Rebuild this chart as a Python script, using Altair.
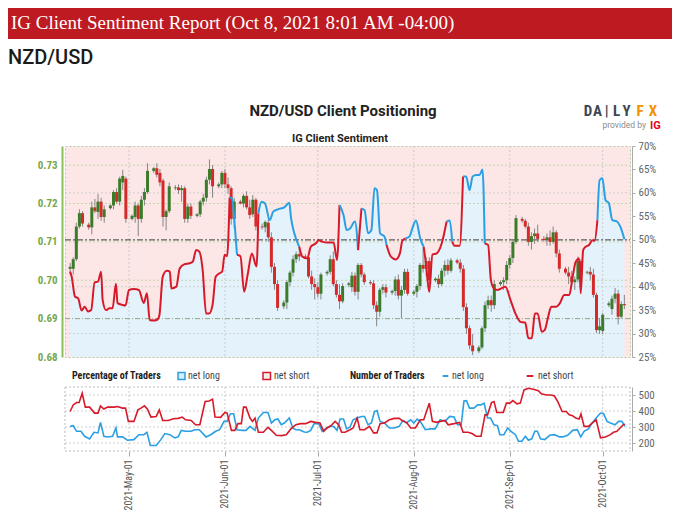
import altair as alt
import pandas as pd

# ----------------------------------------------------------------- data
# Daily NZD/USD candles (Sun-Fri bars) 2021-04-12 .. 2021-10-08, in pips (x 1e-4)
candle_open = [
    7030, 7030, 7055, 7140, 7175,
    7145, 7138, 7190, 7178, 7205, 7165,
    7188, 7195, 7230, 7205, 7255, 7265,
    7160, 7165, 7195, 7160, 7210, 7230,
    7285, 7292, 7280, 7260, 7165, 7180,
    7240, 7242, 7235, 7240, 7160, 7192,
    7168, 7172, 7205, 7215, 7262, 7290,
    7245, 7250, 7280, 7250, 7240, 7160,
    7205, 7200, 7220, 7190, 7172, 7210,
    7140, 7138, 7150, 7112, 7035, 6990,
    6932, 6942, 6995, 7020, 7055, 7068,
    7062, 7060, 7010, 6990, 6982, 6965,
    7018, 7022, 7055, 6990, 6962, 6945,
    6988, 6982, 7012, 6970, 7040, 7015,
    6995, 6992, 6935, 6918, 6975, 6982,
    6968, 6972, 7002, 6960, 6975, 7022,
    6965, 6970, 6985, 7040, 7030, 7050,
    7000, 7004, 6990, 7025, 7040, 7025,
    7052, 7046, 7030, 6930, 6875, 6830,
    6815, 6825, 6875, 6935, 6948, 6935,
    6990, 6995, 7000, 7040, 7058, 7100,
    7160, 7155, 7140, 7100, 7115, 7122,
    7108, 7105, 7112, 7100, 7125, 7070,
    7030, 7020, 7010, 6995, 7002, 7050,
    7020, 7022, 7015, 6962, 6870, 6868,
    6935, 6925, 6952, 6965, 6905, 6938,
]
candle_high = [
    7045, 7060, 7150, 7185, 7180,
    7150, 7205, 7212, 7225, 7215, 7195,
    7198, 7235, 7240, 7270, 7288, 7270,
    7172, 7205, 7200, 7220, 7240, 7305,
    7295, 7305, 7290, 7265, 7185, 7255,
    7248, 7250, 7248, 7245, 7200, 7200,
    7175, 7210, 7225, 7270, 7315, 7300,
    7255, 7285, 7290, 7268, 7245, 7215,
    7210, 7225, 7232, 7210, 7222, 7215,
    7148, 7156, 7165, 7125, 7045, 7000,
    6948, 7000, 7025, 7065, 7075, 7085,
    7068, 7070, 7025, 7005, 6995, 7020,
    7026, 7065, 7075, 7000, 6990, 6992,
    6996, 7022, 7020, 7045, 7045, 7020,
    7000, 7000, 6945, 6980, 6990, 6990,
    6976, 7010, 7015, 6985, 7030, 7030,
    6975, 6990, 7045, 7085, 7060, 7060,
    7008, 7015, 7032, 7052, 7055, 7058,
    7056, 7055, 7040, 6940, 6882, 6860,
    6830, 6880, 6945, 6960, 6960, 7000,
    7000, 7008, 7050, 7065, 7105, 7170,
    7165, 7160, 7150, 7125, 7135, 7145,
    7115, 7122, 7130, 7140, 7130, 7080,
    7035, 7035, 7025, 7010, 7062, 7055,
    7025, 7035, 7030, 6968, 6900, 6915,
    6945, 6960, 6980, 6975, 6945, 6962,
]
candle_low = [
    7015, 7015, 7050, 7135, 7140,
    7132, 7120, 7175, 7160, 7155, 7150,
    7184, 7185, 7200, 7195, 7235, 7150,
    7156, 7150, 7115, 7150, 7195, 7225,
    7280, 7268, 7245, 7140, 7130, 7175,
    7235, 7225, 7205, 7150, 7150, 7160,
    7164, 7165, 7195, 7205, 7250, 7215,
    7240, 7240, 7240, 7225, 7145, 7135,
    7198, 7190, 7185, 7160, 7165, 7130,
    7132, 7125, 7100, 7020, 6975, 6920,
    6925, 6925, 6985, 7010, 7045, 7050,
    7056, 7005, 6975, 6950, 6955, 6950,
    7012, 7015, 6985, 6955, 6925, 6940,
    6982, 6970, 6960, 6950, 7008, 6988,
    6988, 6925, 6880, 6905, 6965, 6955,
    6962, 6960, 6950, 6900, 6965, 6960,
    6960, 6955, 6975, 7020, 7010, 6990,
    6995, 6980, 6985, 7010, 7015, 7020,
    7042, 7020, 6920, 6860, 6820, 6805,
    6810, 6820, 6865, 6925, 6918, 6925,
    6985, 6975, 6990, 7030, 7045, 7095,
    7150, 7135, 7090, 7080, 7095, 7100,
    7100, 7090, 7090, 7095, 7060, 7020,
    7015, 6990, 6985, 6975, 6995, 7010,
    7015, 7000, 6955, 6862, 6860, 6860,
    6930, 6910, 6940, 6885, 6900, 6925,
]
candle_close = [
    7035, 7055, 7140, 7175, 7148,
    7138, 7190, 7180, 7205, 7165, 7185,
    7195, 7230, 7205, 7265, 7272, 7160,
    7168, 7195, 7160, 7210, 7230, 7285,
    7292, 7275, 7255, 7165, 7180, 7245,
    7242, 7235, 7240, 7160, 7192, 7168,
    7172, 7205, 7215, 7262, 7290, 7245,
    7250, 7280, 7250, 7240, 7160, 7205,
    7200, 7220, 7190, 7170, 7210, 7140,
    7138, 7152, 7112, 7035, 6990, 6928,
    6942, 6995, 7020, 7055, 7068, 7062,
    7060, 7010, 6990, 6982, 6965, 7015,
    7022, 7055, 6990, 6962, 6945, 6985,
    6992, 7012, 6970, 7040, 7015, 6995,
    6992, 6935, 6918, 6975, 6982, 6968,
    6972, 7002, 6960, 6975, 7022, 6965,
    6970, 6985, 7040, 7030, 7050, 7000,
    7004, 6990, 7025, 7040, 7025, 7052,
    7046, 7030, 6930, 6875, 6830, 6815,
    6825, 6875, 6935, 6948, 6935, 6990,
    6995, 7000, 7040, 7058, 7100, 7162,
    7155, 7140, 7100, 7115, 7122, 7108,
    7105, 7112, 7100, 7125, 7070, 7030,
    7020, 7010, 6995, 7002, 7050, 7020,
    7022, 7015, 6962, 6870, 6880, 6910,
    6940, 6952, 6965, 6905, 6938, 6935,
]

# % of IG clients net long, read at day offsets from 2021-05-01
pct_day = [
    -19.0, -18.5, -17.45, -16.4, -15.3, -14.3, -13.2, -12.2, -11.1, -10.0,
    -9.0, -8.5, -7.4, -6.3, -5.3, -4.2, -3.7, -2.1, -1.1, 0.0,
    1.6, 3.2, 4.8, 5.8, 6.7, 7.9, 9.0, 9.8, 10.9, 12.2,
    13.2, 13.7, 15.3, 16.4, 18.0, 19.6, 20.6, 21.7, 22.7, 23.8,
    24.9, 25.9, 27.0, 28.0, 29.1, 30.1, 30.9, 31.7, 32.5, 33.3,
    34.2, 34.9, 36.0, 37.2, 38.4, 39.7, 41.2, 41.8, 42.8, 43.9,
    45.5, 46.6, 48.1, 50.2, 51.8, 52.3, 53.4, 55.0, 56.0, 57.6,
    58.7, 60.3, 61.3, 62.4, 64.0, 66.1, 67.2, 68.0, 69.3, 70.3,
    71.4, 73.0, 74.0, 75.1, 76.1, 77.2, 78.3, 79.3, 80.1, 81.1,
    82.5, 83.2, 84.6, 86.2, 87.5, 88.3, 89.3, 90.6, 91.5, 92.7,
    94.1, 95.2, 95.9, 97.0, 98.0, 99.4, 101.0, 102.6, 103.6, 104.4,
    105.2, 106.8, 107.9, 108.9, 110.0, 111.0, 112.1, 113.2, 114.2, 114.9,
    116.0, 116.9, 117.9, 119.0, 121.6, 123.2, 124.8, 126.4, 128.0, 129.0,
    130.1, 131.1, 132.0, 133.3, 134.3, 135.4, 136.4, 138.0, 139.1, 140.6,
    142.2, 143.3, 144.3, 145.4, 145.9, 146.7, 147.5, 148.6, 149.7, 150.4,
    151.3, 152.0, 152.9, 153.9, 155.0, 156.1, 157.6, 158.7, 160.0,
]
pct_long = [
    43.2, 42.1, 37.9, 37.5, 34.9, 35.7, 34.7, 35.0, 40.9, 41.1,
    43.2, 37.2, 35.0, 35.4, 35.4, 40.6, 36.5, 36.1, 36.0, 39.3,
    39.5, 39.3, 36.5, 38.6, 32.9, 32.8, 32.9, 33.8, 42.1, 43.4,
    43.2, 39.6, 40.0, 43.9, 44.8, 45.0, 45.3, 47.8, 47.5, 43.6,
    34.3, 34.3, 36.1, 42.1, 42.8, 43.2, 46.8, 46.5, 59.0, 58.8,
    52.8, 46.8, 46.5, 38.9, 42.8, 47.1, 44.3, 55.6, 58.1, 57.8,
    54.2, 56.0, 56.5, 56.9, 57.9, 54.9, 51.4, 48.5, 46.4, 46.0,
    48.5, 49.2, 49.9, 49.6, 49.4, 49.4, 45.7, 57.4, 55.3, 52.1,
    52.4, 53.9, 47.8, 56.7, 56.3, 51.4, 52.1, 61.0, 60.6, 51.4,
    50.7, 48.9, 46.4, 45.8, 47.1, 49.8, 50.3, 50.7, 52.4, 54.1,
    50.2, 48.5, 45.0, 38.9, 46.8, 47.1, 49.2, 53.9, 54.1, 49.6,
    48.7, 48.7, 63.5, 63.5, 60.6, 63.5, 63.8, 63.8, 65.0, 49.2,
    48.9, 41.4, 39.6, 39.3, 40.0, 37.2, 34.3, 32.5, 32.3, 29.0,
    29.0, 34.3, 34.3, 30.4, 30.8, 33.6, 35.7, 35.7, 36.4, 38.2,
    38.2, 42.1, 45.3, 46.0, 38.6, 47.8, 48.5, 48.9, 49.9, 49.8,
    54.2, 62.7, 63.1, 58.5, 57.8, 54.2, 53.9, 52.8, 50.1,
]

# Number of traders net long (day offsets from 2021-05-01)
long_day = [
    -19.0, -18.0, -16.9, -15.5, -14.3, -12.7, -11.3, -10.0, -9.2, -8.1,
    -6.9, -5.3, -4.2, -3.7, -2.1, -0.5, 1.6, 3.2, 4.8, 5.8,
    6.9, 8.8, 10.3, 11.6, 13.2, 14.8, 15.9, 16.9, 18.3, 20.1,
    21.2, 22.7, 24.9, 26.4, 28.0, 29.3, 30.7, 31.7, 32.8, 33.8,
    34.9, 36.5, 37.8, 39.1, 40.7, 41.8, 43.4, 44.9, 46.0, 47.1,
    48.1, 49.2, 50.2, 51.8, 52.9, 53.9, 55.0, 56.6, 57.6, 58.7,
    59.8, 61.3, 62.4, 63.8, 65.0, 66.1, 67.2, 68.2, 69.3, 70.3,
    71.4, 72.4, 73.7, 75.1, 76.1, 77.2, 78.3, 79.3, 80.1, 81.1,
    82.5, 84.1, 85.7, 87.3, 88.5, 89.6, 91.0, 92.0, 93.1, 94.1,
    95.7, 97.3, 98.9, 100.5, 102.1, 103.6, 105.0, 106.1, 107.3, 108.2,
    109.0, 110.0, 111.4, 112.6, 113.7, 114.7, 115.8, 116.8, 117.9, 119.0,
    119.8, 121.1, 122.3, 123.4, 124.8, 125.8, 126.9, 128.0, 129.0, 130.1,
    131.1, 131.9, 132.9, 134.3, 135.9, 137.4, 139.1, 140.1, 141.7, 143.3,
    144.8, 145.9, 147.0, 148.4, 149.6, 150.9, 152.3, 153.3, 154.4, 155.5,
    157.0, 158.1, 159.2, 160.2,
]
long_cnt = [
    304, 308, 273, 273, 242, 226, 267, 263, 329, 242,
    238, 242, 294, 238, 238, 217, 221, 252, 252, 267,
    184, 184, 221, 259, 252, 232, 238, 279, 273, 273,
    283, 283, 238, 252, 273, 283, 335, 335, 383, 383,
    283, 279, 279, 304, 279, 356, 391, 391, 325, 345,
    350, 314, 325, 356, 294, 283, 283, 269, 267, 279,
    321, 321, 273, 294, 304, 304, 279, 350, 350, 288,
    300, 345, 356, 366, 366, 314, 325, 397, 403, 335,
    325, 294, 294, 304, 341, 325, 345, 325, 350, 335,
    283, 288, 288, 345, 335, 366, 362, 314, 314, 463,
    465, 418, 418, 438, 438, 449, 356, 356, 314, 308,
    252, 252, 294, 273, 252, 211, 211, 242, 217, 226,
    273, 273, 226, 221, 248, 252, 238, 238, 248, 279,
    283, 238, 273, 288, 325, 356, 387, 383, 335, 325,
    314, 335, 335, 304,
]

# Number of traders net short (day offsets from 2021-05-01)
short_day = [
    -19.0, -18.0, -16.9, -16.1, -15.1, -14.1, -12.7, -11.1, -10.0, -9.2,
    -8.1, -6.9, -4.8, -3.7, -2.1, -1.1, -0.2, 1.6, 2.9, 3.9,
    5.0, 6.0, 7.1, 8.8, 9.8, 10.9, 12.7, 14.3, 15.9, 17.2,
    18.3, 20.1, 21.5, 22.9, 24.6, 25.9, 27.0, 27.8, 29.6, 31.0,
    31.7, 33.1, 34.2, 35.2, 36.3, 37.0, 37.8, 39.1, 39.9, 40.7,
    41.8, 43.4, 44.9, 46.0, 47.6, 49.2, 50.8, 52.3, 53.9, 55.5,
    57.1, 58.7, 60.3, 61.7, 62.9, 64.0, 65.2, 66.6, 67.7, 68.7,
    69.8, 71.4, 72.4, 73.7, 74.6, 76.1, 77.7, 79.0, 80.1, 81.1,
    82.5, 84.1, 85.7, 87.3, 88.3, 89.6, 91.0, 92.5, 94.1, 95.2,
    97.0, 98.0, 99.4, 100.5, 102.1, 103.1, 105.0, 106.8, 107.9, 109.5,
    110.8, 112.1, 113.7, 115.0, 115.8, 117.1, 117.9, 118.8, 119.5, 120.9,
    121.9, 123.0, 124.0, 125.3, 126.4, 127.6, 129.0, 130.6, 132.2, 133.2,
    134.8, 136.4, 137.4, 138.5, 139.9, 141.2, 142.2, 143.3, 144.3, 145.4,
    146.0, 147.0, 148.4, 149.6, 150.9, 152.3, 153.9, 155.5, 156.5, 157.6,
    158.6, 159.7, 160.2,
]
short_cnt = [
    397, 438, 453, 453, 511, 424, 424, 387, 387, 432,
    412, 424, 424, 428, 418, 418, 335, 335, 407, 418,
    432, 412, 362, 366, 407, 341, 341, 352, 354, 362,
    345, 341, 314, 314, 459, 463, 474, 362, 360, 391,
    387, 279, 279, 321, 321, 424, 424, 356, 335, 356,
    267, 267, 298, 279, 248, 246, 252, 288, 314, 321,
    321, 335, 329, 325, 273, 294, 308, 335, 314, 267,
    267, 283, 294, 356, 283, 283, 304, 263, 263, 321,
    325, 345, 354, 354, 339, 329, 294, 294, 345, 345,
    449, 335, 329, 335, 341, 314, 321, 329, 267, 267,
    259, 242, 242, 376, 376, 453, 459, 391, 391, 391,
    449, 449, 465, 445, 449, 532, 542, 536, 527, 507,
    500, 500, 494, 459, 397, 397, 376, 370, 356, 350,
    381, 304, 304, 325, 345, 232, 238, 252, 267, 273,
    294, 314, 318,
]

month_ticks = ["2021-05-01", "2021-06-01", "2021-07-01", "2021-08-01", "2021-09-01", "2021-10-01"]
price_ticks = [0.68, 0.69, 0.70, 0.71, 0.72, 0.73]
pct_ticks = [25, 30, 35, 40, 45, 50, 55, 60, 65, 70]
cnt_ticks = [200, 300, 400, 500]

# ----------------------------------------------------------------- styles
W, H = 565, 211
BLUE = "#2a9fe3"
RED = "#d71a2a"
GREEN_C = "#3b7b2a"
RED_C = "#d42a2a"
PINK = "#fce6e6"
LIGHTBLUE = "#e4f2fb"
NARROW = "Liberation Sans Narrow, Roboto Condensed, Roboto, sans-serif"
SANS = "Roboto, Liberation Sans, sans-serif"

assert len(candle_open) == len(candle_high) == len(candle_low) == len(candle_close)
assert len(pct_day) == len(pct_long)
assert len(long_day) == len(long_cnt)
assert len(short_day) == len(short_cnt)

# ----------------------------------------------------------------- tables
all_days = pd.date_range("2021-04-12", "2021-10-08", freq="D")
candle_dates = all_days[all_days.dayofweek != 5]   # no Saturday bars
assert len(candle_dates) == len(candle_open)

candles = pd.DataFrame({
    "date": candle_dates,
    "open": [v / 10000 for v in candle_open],
    "high": [v / 10000 for v in candle_high],
    "low": [v / 10000 for v in candle_low],
    "close": [v / 10000 for v in candle_close],
})
candles["col"] = [GREEN_C if c >= o else RED_C for o, c in zip(candle_open, candle_close)]

base = pd.Timestamp("2021-05-01")
pct_dates = base + pd.to_timedelta(pct_day, unit="D")
pct_df = pd.DataFrame({"date": pct_dates, "pct": pct_long})

# split sentiment line into runs coloured by the side of each segment's start point
run_rows = []
run = 0
prev = None
for i in range(len(pct_long) - 1):
    side = pct_long[i] >= 50
    col = BLUE if side else RED
    if side != prev:
        run += 1
        run_rows.append({"date": pct_dates[i], "pct": pct_long[i], "run": run, "col": col})
        prev = side
    run_rows.append({"date": pct_dates[i + 1], "pct": pct_long[i + 1], "run": run, "col": col})
runs_df = pd.DataFrame(run_rows)

long_df = pd.DataFrame({"date": base + pd.to_timedelta(long_day, unit="D"), "cnt": long_cnt})
short_df = pd.DataFrame({"date": base + pd.to_timedelta(short_day, unit="D"), "cnt": short_cnt})
months_df = pd.DataFrame({"date": pd.to_datetime(month_ticks)})

# ----------------------------------------------------------------- scales / axes
x_scale = alt.Scale(domain=[alt.DateTime(year=2021, month=4, date=11, hours=23),
                            alt.DateTime(year=2021, month=10, date=8, hours=5)])
price_scale = alt.Scale(domain=[0.68, 0.735], nice=False, zero=False)
pct_scale = alt.Scale(domain=[25, 70], nice=False, zero=False)
cnt_scale = alt.Scale(domain=[150, 550], range=[305, 241], nice=False, zero=False)

month_values = [alt.DateTime(year=t.year, month=t.month, date=t.day) for t in pd.to_datetime(month_ticks)]
x_axis = alt.Axis(orient="bottom", offset=94, values=month_values, format="%Y-%b-%d",
                  labelAngle=-90, labelFont=NARROW, labelFontSize=10, labelColor="#555",
                  domain=False, ticks=True, tickColor="#aaa", tickSize=5, labelPadding=3,
                  grid=False, title=None)
price_axis = alt.Axis(orient="left", values=price_ticks, format=".2f", labelColor="#76a84a",
                      labelFont=NARROW, labelFontSize=11, labelFontWeight="bold",
                      domainColor="#8cbf5a", domainWidth=2, ticks=False, offset=3,
                      labelPadding=5, grid=False, title=None)
pct_axis = alt.Axis(orient="right", values=pct_ticks, labelExpr="datum.value + '%'",
                    labelColor="#666", labelFont=NARROW, labelFontSize=11,
                    domainColor="#aaa", tickColor="#aaa", tickSize=3, offset=2,
                    labelPadding=3, grid=False, title=None)
cnt_axis = alt.Axis(orient="right", values=cnt_ticks, labelColor="#666", labelFont=NARROW,
                    labelFontSize=11, domainColor="#aaa", tickColor="#aaa", tickSize=3,
                    offset=2, labelPadding=3, grid=False, title=None)


def X(axis=None):
    if axis is None:
        return alt.X("date:T", scale=x_scale, title=None)
    return alt.X("date:T", scale=x_scale, axis=axis, title=None)


def txt(s, x, y, **kw):
    return alt.Chart(pd.DataFrame({"t": [s]})).mark_text(**kw).encode(
        x=alt.value(x), y=alt.value(y), text="t:N")


def box(x1, x2, y1, y2, **kw):
    return alt.Chart(pd.DataFrame({"k": [0]})).mark_rect(**kw).encode(
        x=alt.value(x1), x2=alt.value(x2), y=alt.value(y1), y2=alt.value(y2))


def hline(x1, x2, y, **kw):
    return alt.Chart(pd.DataFrame({"k": [0]})).mark_rule(**kw).encode(
        x=alt.value(x1), x2=alt.value(x2), y=alt.value(y))


layers = []

# sentiment area (blue below line, pink view above)
layers.append(alt.Chart(pct_df).mark_area(color=LIGHTBLUE, interpolate="monotone").encode(
    x=X(), y=alt.Y("pct:Q", scale=pct_scale, axis=pct_axis), y2=alt.Y2Datum(25)))

# vertical month grid (main panel) + x axis
layers.append(alt.Chart(months_df).mark_rule(color="#cccccc", strokeDash=[2, 2]).encode(
    x=X(x_axis), y=alt.YDatum(70, scale=pct_scale, axis=None), y2=alt.Y2Datum(25)))

# horizontal grids
layers.append(alt.Chart(pd.DataFrame({"v": price_ticks[2:]})).mark_rule(
    color="#c3d6aa", strokeDash=[2, 2]).encode(
    y=alt.Y("v:Q", scale=price_scale, axis=None), x=alt.value(0), x2=alt.value(W)))
layers.append(alt.Chart(pd.DataFrame({"v": [30, 40, 60]})).mark_rule(
    color="#cfcfcf", strokeDash=[2, 2]).encode(
    y=alt.Y("v:Q", scale=pct_scale, axis=None), x=alt.value(0), x2=alt.value(W)))
layers.append(alt.Chart(pd.DataFrame({"v": [price_ticks[1]]})).mark_rule(
    color="#93a385", strokeDash=[5, 2, 1, 2]).encode(
    y=alt.Y("v:Q", scale=price_scale, axis=None), x=alt.value(0), x2=alt.value(W)))
layers.append(alt.Chart(pd.DataFrame({"v": [50]})).mark_rule(
    color="#5e5e5e", strokeDash=[6, 2, 2, 2], strokeWidth=1.2).encode(
    y=alt.Y("v:Q", scale=pct_scale, axis=None), x=alt.value(0), x2=alt.value(W)))

# candles
layers.append(alt.Chart(candles).mark_rule(color="#858585", strokeWidth=1).encode(
    x=X(), y=alt.Y("low:Q", scale=price_scale, axis=price_axis), y2="high:Q"))
layers.append(alt.Chart(candles).mark_bar(size=3).encode(
    x=X(), y=alt.Y("open:Q", scale=price_scale, axis=None), y2="close:Q",
    color=alt.Color("col:N", scale=None)))

# sentiment line
layers.append(alt.Chart(runs_df).mark_line(strokeWidth=2, interpolate="monotone").encode(
    x=X(), y=alt.Y("pct:Q", scale=pct_scale, axis=None),
    color=alt.Color("col:N", scale=None), detail="run:N"))

# lower panel grid + frame
layers.append(alt.Chart(pd.DataFrame({"v": cnt_ticks})).mark_rule(
    color="#cfcfcf", strokeDash=[2, 2]).encode(
    y=alt.Y("v:Q", scale=cnt_scale, axis=None), x=alt.value(0), x2=alt.value(W)))
layers.append(alt.Chart(pd.DataFrame({"v": [150, 550]})).mark_rule(
    color="#bdbdbd", strokeDash=[2, 2]).encode(
    y=alt.Y("v:Q", scale=cnt_scale, axis=None), x=alt.value(0), x2=alt.value(W)))
layers.append(alt.Chart(months_df).mark_rule(color="#cccccc", strokeDash=[2, 2]).encode(
    x=X(), y=alt.YDatum(550, scale=cnt_scale, axis=None), y2=alt.Y2Datum(150)))
for xv in (0, W):
    layers.append(alt.Chart(pd.DataFrame({"k": [0]})).mark_rule(
        color="#bdbdbd", strokeDash=[2, 2]).encode(
        x=alt.value(xv), y=alt.YDatum(550, scale=cnt_scale, axis=None), y2=alt.Y2Datum(150)))

# lower panel lines
layers.append(alt.Chart(long_df).mark_line(color=BLUE, strokeWidth=1.6).encode(
    x=X(), y=alt.Y("cnt:Q", scale=cnt_scale, axis=cnt_axis)))
layers.append(alt.Chart(short_df).mark_line(color=RED, strokeWidth=1.6).encode(
    x=X(), y=alt.Y("cnt:Q", scale=cnt_scale, axis=None)))

# header
layers.append(box(-57, 607, -138, -107, color="#be1a22"))
layers.append(txt("IG Client Sentiment Report (Oct 8, 2021 8:01 AM -04:00)", -54, -117,
                  align="left", baseline="alphabetic", font="Liberation Serif",
                  fontSize=19, color="white"))
layers.append(txt("NZD/USD", -57, -82, align="left", baseline="alphabetic", font=SANS,
                  fontSize=20, fontWeight=500, color="#1a1a1a"))
layers.append(txt("NZD/USD Client Positioning", 278, -30, align="center", baseline="alphabetic",
                  font=SANS, fontSize=15, fontWeight="bold", color="#222"))
layers.append(txt("IG Client Sentiment", 275, -4, align="center", baseline="alphabetic",
                  font=SANS, fontSize=11, fontWeight="bold", color="#222"))

# DailyFX logo
for ch, xv, col in [("D", 523, "#3c4752"), ("A", 532.5, "#3c4752"), ("|", 541.7, "#3c4752"),
                    ("L", 551.7, "#3c4752"), ("Y", 561.5, "#3c4752"),
                    ("F", 575, "#f39200"), ("X", 588, "#f39200")]:
    layers.append(txt(ch, xv, -30, align="center", baseline="alphabetic",
                      font=NARROW, fontSize=15, fontWeight="bold", color=col))
layers.append(txt("provided by", 581, -18, align="right", baseline="alphabetic",
                  font=SANS, fontSize=8.5, color="#8c8c8c"))
layers.append(txt("IG", 585, -17.5, align="left", baseline="alphabetic",
                  font=SANS, fontSize=11, fontWeight="bold", color="#e3001b"))

# legend row
LY = 230
layers.append(txt("Percentage of Traders", 7, LY, align="left", baseline="middle",
                  font=NARROW, fontSize=10, fontWeight="bold", color="#222"))
layers.append(box(113, 120, LY - 3.5, LY + 3.5, fill="#d8edfa", stroke=BLUE, strokeWidth=1.5))
layers.append(txt("net long", 123, LY, align="left", baseline="middle",
                  font=NARROW, fontSize=10, color="#444"))
layers.append(box(198, 205.5, LY - 3.5, LY + 3.5, fill="#eeeeee", stroke=RED, strokeWidth=1.5))
layers.append(txt("net short", 209, LY, align="left", baseline="middle",
                  font=NARROW, fontSize=10, color="#444"))
layers.append(txt("Number of Traders", 285, LY, align="left", baseline="middle",
                  font=NARROW, fontSize=10, fontWeight="bold", color="#222"))
layers.append(hline(377.7, 383.3, LY, color=BLUE, strokeWidth=2))
layers.append(txt("net long", 387, LY, align="left", baseline="middle",
                  font=NARROW, fontSize=10, color="#444"))
layers.append(hline(461.7, 468.3, LY, color=RED, strokeWidth=2))
layers.append(txt("net short", 473, LY, align="left", baseline="middle",
                  font=NARROW, fontSize=10, color="#444"))

chart = (
    alt.layer(*layers)
    .resolve_scale(y="independent")
    .properties(width=W, height=H, padding=0)
    .configure_view(fill=PINK, stroke="#b5c9a0", strokeDash=[2, 2])
)

chart.save("out.html", embed_options={"renderer": "svg", "actions": False})
